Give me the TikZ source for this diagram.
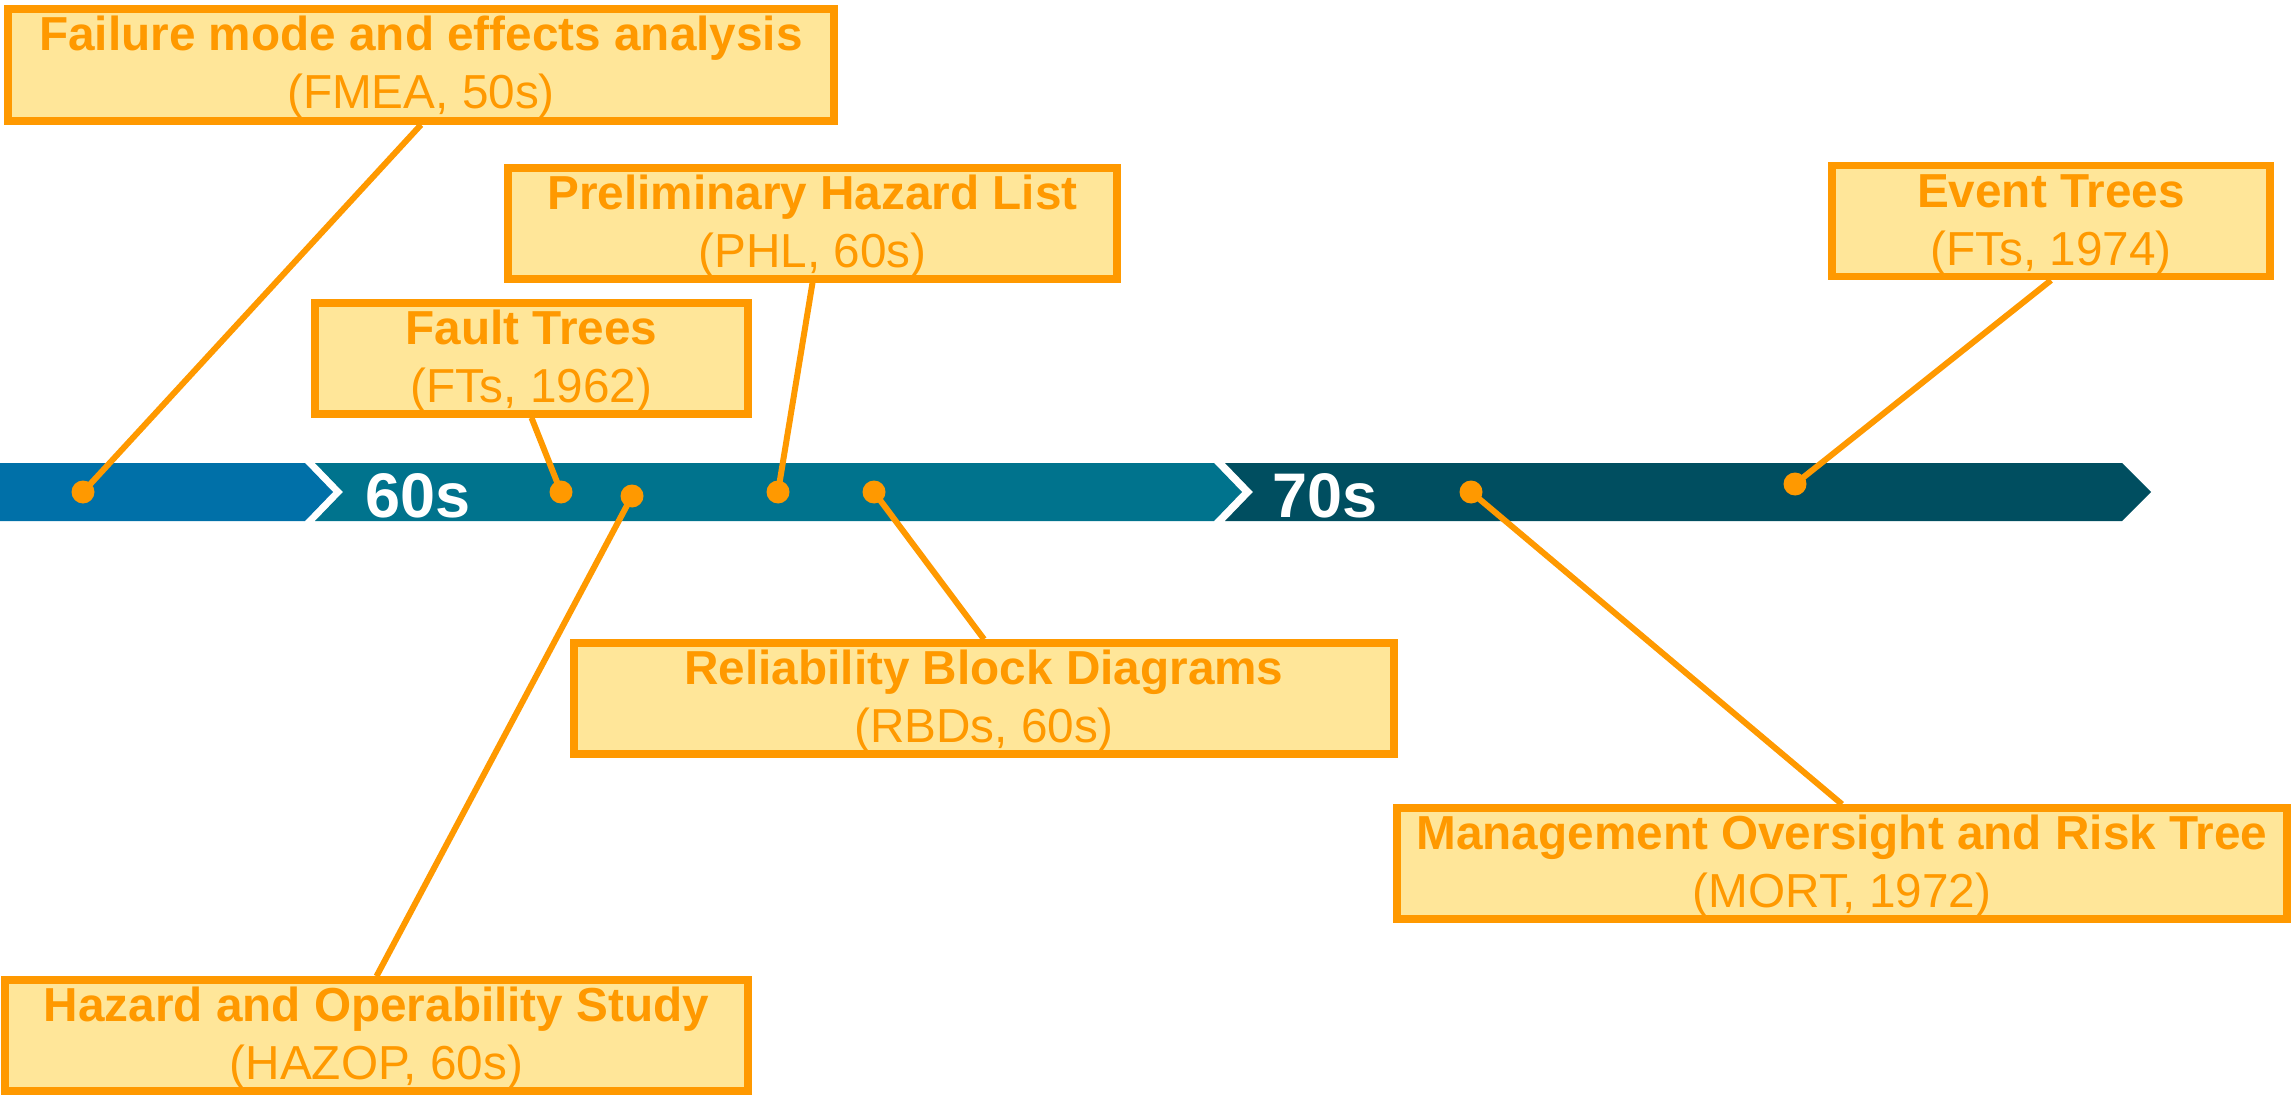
\documentclass[tikz,border=0pt]{standalone}
\usepackage{fontspec}
\setmainfont{Liberation Sans}
\usetikzlibrary{calc}
\definecolor{orng}{HTML}{FF9900}
\definecolor{boxfill}{HTML}{FFE699}
\definecolor{segA}{HTML}{0070A8}
\definecolor{segB}{HTML}{00738D}
\definecolor{segC}{HTML}{004E60}
\begin{document}
\begin{tikzpicture}[x=0.5pt,y=-0.5pt,
 box/.style={draw=orng, fill=boxfill, line width=3.75pt, rectangle, inner sep=0pt, minimum height=55.5pt},
 ttl/.style={anchor=base, text=orng, font=\fontsize{23.85}{28}\selectfont\bfseries, inner sep=0pt},
 sub/.style={anchor=base, text=orng, font=\fontsize{23.85}{28}\selectfont, inner sep=0pt},
 dot/.style={circle, fill=orng, minimum size=11.5pt, inner sep=0pt},
 link/.style={draw=orng, line width=3pt},
 era/.style={anchor=base west, text=white, font=\fontsize{31.5}{36}\selectfont\bfseries, inner sep=0pt}]
\useasboundingbox (0,0) rectangle (2291,1096);
% timeline bar
\fill[segA] (0,463) -- (305,463) -- (333,492) -- (305,521) -- (0,521) -- cycle;
\fill[segB] (315,463) -- (1214,463) -- (1242,492) -- (1214,521) -- (315,521) -- (343,492) -- cycle;
\fill[segC] (1225,463) -- (2122,463) -- (2151,492) -- (2122,521) -- (1225,521) -- (1253,492) -- cycle;
\node[era] (l60) at (365,517) {60s};
\node[era] (l70) at (1272,517) {70s};
% boxes
\node[box, minimum width=413pt, minimum height=56pt] (fmea) at (421,65) {};
\node[box, minimum width=216.5pt] (ft) at (531.5,358.5) {};
\node[box, minimum width=304.5pt] (phl) at (812.5,223.5) {};
\node[box, minimum width=219pt] (et) at (2051,221) {};
\node[box, minimum width=410pt] (rbd) at (984,698.5) {};
\node[box, minimum width=445pt] (mort) at (1842,863.5) {};
\node[box, minimum width=371.5pt] (hazop) at (376.5,1035.5) {};
% dots
\node[dot] (dfmea) at (83,492) {};
\node[dot] (dft) at (561,492) {};
\node[dot] (dhazop) at (632,496) {};
\node[dot] (dphl) at (778,492) {};
\node[dot] (drbd) at (874,492) {};
\node[dot] (dmort) at (1471,492) {};
\node[dot] (det) at (1795,484) {};
% connectors
\draw[link] (fmea.south) -- (dfmea.center);
\draw[link] (ft.south) -- (dft.center);
\draw[link] (phl.south) -- (dphl.center);
\draw[link] (et.south) -- (det.center);
\draw[link] (rbd.north) -- (drbd.center);
\draw[link] (mort.north) -- (dmort.center);
\draw[link] (hazop.north) -- (dhazop.center);
% texts
\foreach \b/\t/\s in {fmea/Failure mode and effects analysis/{(FMEA, 50s)},
  ft/Fault Trees/{(FTs, 1962)},
  phl/Preliminary Hazard List/{(PHL, 60s)},
  et/Event Trees/{(FTs, 1974)},
  rbd/Reliability Block Diagrams/{(RBDs, 60s)},
  mort/Management Oversight and Risk Tree/{(MORT, 1972)},
  hazop/Hazard and Operability Study/{(HAZOP, 60s)}}{
  \node[ttl] (\b T) at ($(\b.north)+(0,45.5)$) {\t};
  \node[sub] (\b S) at ($(\b.north)+(0,103.5)$) {\s};
}
\end{tikzpicture}
\end{document}
